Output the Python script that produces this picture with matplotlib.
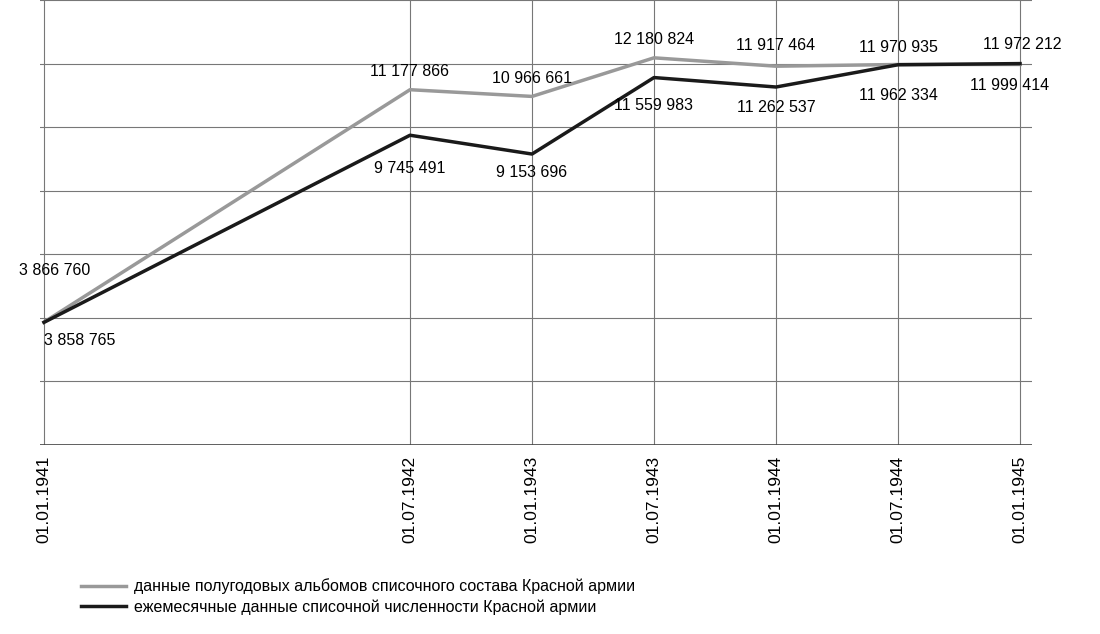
import matplotlib
matplotlib.use("Agg")
import matplotlib.pyplot as plt

dates = ["01.01.1941","01.07.1942","01.01.1943","01.07.1943","01.01.1944","01.07.1944","01.01.1945"]
xpos = [0, 3, 4, 5, 6, 7, 8]  # half-years since 01.01.1941
album = [3866760, 11177866, 10966661, 12180824, 11917464, 11970935, 11972212]
monthly = [3858765, 9745491, 9153696, 11559983, 11262537, 11962334, 11999414]
names = ["данные полугодовых альбомов списочного состава Красной армии",
         "ежемесячные данные списочной численности Красной армии"]

def fmt(v):
    return f"{v:,}".replace(",", " ")

plt.rcParams['font.family'] = ['Liberation Sans', 'DejaVu Sans']
fig = plt.figure(figsize=(11, 6.34), dpi=100)
ax = fig.add_axes([40/1100, 1-445/634, (1032-40)/1100, 445/634])
ax.set_xlim(-4/122, 8 + 12/122)
ax.set_ylim(0, 14e6)
for y in range(2, 15, 2):
    ax.axhline(y*1e6, color="#777777", lw=0.8, zorder=0)
for x in xpos:
    ax.axvline(x, color="#777777", lw=0.8, zorder=0)
ax.axhline(0, color="#444444", lw=1.2)
for s in ax.spines.values():
    s.set_visible(False)
ax.set_yticks([])
ax.set_xticks(xpos)
ax.set_xticklabels(dates, rotation=90, fontsize=12.5)
ax.tick_params(axis='x', length=0, pad=8)

l1, = ax.plot(xpos, album, color="#999999", lw=2.5, label=names[0])
l2, = ax.plot(xpos, monthly, color="#1a1a1a", lw=2.5, label=names[1])

aoff = [(11, 52), (0, 18), (0, 18), (0, 18), (0, 21), (0, 17), (2, 20)]
moff = [(36, -18), (0, -33), (0, -18), (0, -28), (0, -20), (0, -31), (-10, -22)]
for x, v, o in zip(xpos, album, aoff):
    ax.annotate(fmt(v), (x, v), xytext=o, textcoords="offset pixels",
                ha="center", va="center", fontsize=11.5, annotation_clip=False)
for x, v, o in zip(xpos, monthly, moff):
    ax.annotate(fmt(v), (x, v), xytext=o, textcoords="offset pixels",
                ha="center", va="center", fontsize=11.5, annotation_clip=False)

fig.legend(handles=[l1, l2], loc="upper left", bbox_to_anchor=(75/1100, 1-572/634),
           frameon=False, fontsize=11.5, handlelength=2.8, labelspacing=0.3,
           borderaxespad=0, handletextpad=0.5)
fig.savefig("out.png", dpi=100)
